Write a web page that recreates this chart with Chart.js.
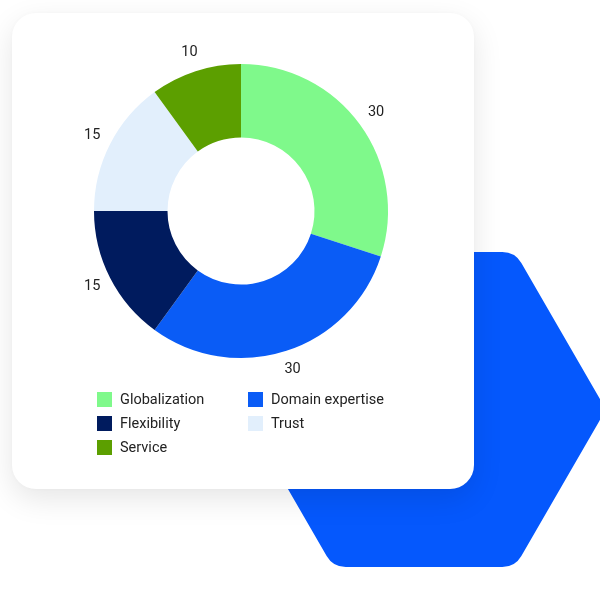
<!DOCTYPE html>
<html>
<head>
<meta charset="utf-8">
<script src="https://cdn.jsdelivr.net/npm/chart.js@4.4.1/dist/chart.umd.min.js"></script>
<style>
  html, body { margin: 0; padding: 0; background: #fff; }
  body { width: 600px; height: 600px; position: relative; overflow: hidden; font-family: Roboto, "Noto Sans", sans-serif; }
  #bg { position: absolute; left: 0; top: 0; }
  .card {
    position: absolute; left: 12px; top: 13px; width: 462px; height: 476px;
    background: #fff; border-radius: 24px;
    box-shadow: 0 10px 30px rgba(0, 0, 0, 0.10), 0 0 6px rgba(0, 0, 0, 0.03);
  }
  #chartBox { position: absolute; left: 71px; top: 40.5px; width: 340px; height: 340px; }
  .legend { position: absolute; left: 97px; top: 392px; width: 320px; display: grid; grid-template-columns: 151px 160px; row-gap: 9px; }
  .legend div { display: flex; align-items: center; height: 15px; font-size: 14.5px; color: #222; white-space: nowrap; }
  .legend span { display: inline-block; width: 15px; height: 15px; margin-right: 8px; }
</style>
</head>
<body>
<canvas id="bg" width="600" height="600"></canvas>
<div class="card"></div>
<div id="chartBox"><canvas id="chart"></canvas></div>
<div class="legend" id="legend"></div>
<script>
// data
const labels = ['Globalization', 'Domain expertise', 'Flexibility', 'Trust', 'Service'];
const values = [30, 30, 15, 15, 10];
const colors = ['#7ff98b', '#0a5cf6', '#001b5e', '#e2effc', '#5c9f00'];

// background hexagon (decoration)
const bg = document.getElementById('bg').getContext('2d');
function drawHex(ctx, cx, cy, R, r) {
  const pts = [];
  for (let i = 0; i < 6; i++) {
    const a = Math.PI / 3 * i;
    pts.push([cx + R * Math.cos(a), cy + R * Math.sin(a)]);
  }
  ctx.beginPath();
  const m0 = [(pts[5][0] + pts[0][0]) / 2, (pts[5][1] + pts[0][1]) / 2];
  ctx.moveTo(m0[0], m0[1]);
  for (let i = 0; i < 6; i++) {
    const p = pts[i], n = pts[(i + 1) % 6];
    ctx.arcTo(p[0], p[1], n[0], n[1], r);
  }
  ctx.closePath();
  ctx.fillStyle = '#0558fd';
  ctx.fill();
}
drawHex(bg, 424, 409.5, 182, 22);

// legend
document.getElementById('legend').innerHTML = labels.map((l, i) =>
  '<div><span style="background:' + colors[i] + '"></span>' + l + '</div>').join('');

// value labels outside the ring
const outsideLabels = {
  id: 'outsideLabels',
  afterDatasetsDraw(chart) {
    const ctx = chart.ctx;
    const meta = chart.getDatasetMeta(0);
    ctx.save();
    ctx.font = '14.5px Roboto';
    ctx.fillStyle = '#222';
    ctx.textAlign = 'center';
    ctx.textBaseline = 'middle';
    meta.data.forEach((arc, i) => {
      const p = arc.getProps(['x', 'y', 'startAngle', 'endAngle', 'outerRadius'], true);
      const mid = (p.startAngle + p.endAngle) / 2;
      const rr = p.outerRadius + 20;
      ctx.fillText(String(chart.data.datasets[0].data[i]), p.x + Math.cos(mid) * rr, p.y + Math.sin(mid) * rr);
    });
    ctx.restore();
  }
};

new Chart(document.getElementById('chart'), {
  type: 'doughnut',
  data: {
    labels: labels,
    datasets: [{ data: values, backgroundColor: colors, borderWidth: 0, hoverOffset: 0 }]
  },
  options: {
    responsive: true,
    maintainAspectRatio: false,
    animation: false,
    cutout: '50%',
    layout: { padding: 23 },
    plugins: { legend: { display: false }, tooltip: { enabled: false } }
  },
  plugins: [outsideLabels]
});
</script>
</body>
</html>
